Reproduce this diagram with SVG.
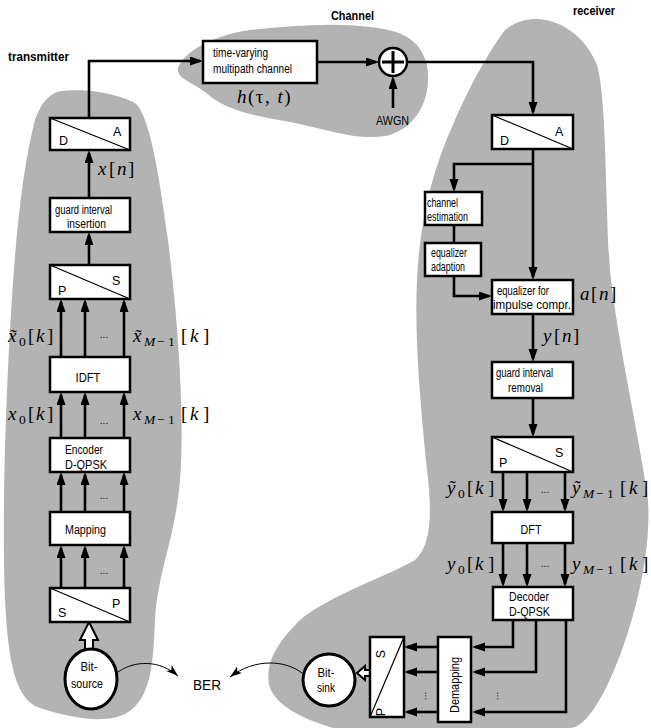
<svg xmlns="http://www.w3.org/2000/svg" width="651" height="728" viewBox="0 0 651 728">
<style>
.blob{fill:#b3b3b3;stroke:none}
.box{fill:#fff;stroke:#000;stroke-width:2.5}
.diag{stroke:#000;stroke-width:1.2;fill:none}
.c{fill:none;stroke:#000;stroke-width:2.6;stroke-linecap:butt;stroke-linejoin:miter}
.t{fill:none;stroke:#000;stroke-width:1}
.s{font-family:"Liberation Sans",Arial,sans-serif;font-size:12.5px;fill:#000}
.l{font-family:"Liberation Sans",Arial,sans-serif;font-size:12.5px;fill:#000}
.b{font-family:"Liberation Sans",Arial,sans-serif;font-size:12.5px;font-weight:bold;fill:#000}
.m{font-family:"Liberation Serif","Times New Roman",serif;font-size:19px;fill:#000}
.i{font-style:italic}
.sub{font-size:13.5px}
.dots{font-family:"Liberation Sans",Arial,sans-serif;font-size:10px;fill:#000}
</style>
<defs>
<marker id="ah" markerUnits="userSpaceOnUse" markerWidth="14" markerHeight="10" refX="10" refY="4.5" orient="auto"><path d="M0,0 L13,4.5 L0,9 z" fill="#000"/></marker>
<marker id="th" markerUnits="userSpaceOnUse" markerWidth="13" markerHeight="9" refX="12" refY="4" orient="auto"><path d="M0,0 L12,4 L0,8 L3,4 z" fill="#000"/></marker>
</defs>

<g id="blobs">
<path class="blob" d="M62,91 C90,88 120,95 135,103 C150,115 160,180 168,240 C178,320 185,420 180,480 C175,540 158,570 155,620 C153,670 150,700 125,714 C105,724 70,718 40,708 C15,700 8,660 5,600 C2,520 5,420 10,330 C15,240 22,170 35,120 C42,100 52,92 62,91 Z"/>
<path class="blob" d="M178,68 C185,50 215,35 250,30 C290,26 330,22 370,27 C400,30 420,38 427,65 C432,95 420,125 390,135 C360,142 330,130 290,122 C250,115 225,110 205,92 C192,82 176,78 178,68 Z"/>
<path class="blob" d="M537,19 C560,20 585,35 597,65 C607,100 605,200 610,270 C617,340 640,440 648,500 C652,560 630,640 605,690 C592,715 580,728 570,728 L333,728 C300,718 275,705 269,685 C265,660 280,640 300,620 C330,595 390,575 415,560 C432,545 432,510 427,470 C422,420 414,340 417,280 C420,220 432,170 455,120 C470,85 490,50 505,30 C515,22 525,19 537,19 Z"/>
</g>

<g id="titles">
<text class="b" x="8" y="61" textLength="61" lengthAdjust="spacingAndGlyphs">transmitter</text>
<text class="b" x="331" y="20" textLength="43" lengthAdjust="spacingAndGlyphs">Channel</text>
<text class="b" x="573" y="15" textLength="42" lengthAdjust="spacingAndGlyphs">receiver</text>
</g>

<g id="connectors">
<path class="c" d="M89,118 V61 H200" marker-end="url(#ah)"/>
<path class="c" d="M89,198 V153" marker-end="url(#ah)"/>
<path class="c" d="M89,265 V235" marker-end="url(#ah)"/>
<path class="c" d="M61,357 V302" marker-end="url(#ah)"/>
<path class="c" d="M85,357 V302" marker-end="url(#ah)"/>
<path class="c" d="M124,357 V302" marker-end="url(#ah)"/>
<path class="c" d="M61,438 V395" marker-end="url(#ah)"/>
<path class="c" d="M85,438 V395" marker-end="url(#ah)"/>
<path class="c" d="M124,438 V395" marker-end="url(#ah)"/>
<path class="c" d="M61,512 V475" marker-end="url(#ah)"/>
<path class="c" d="M85,512 V475" marker-end="url(#ah)"/>
<path class="c" d="M124,512 V475" marker-end="url(#ah)"/>
<path class="c" d="M61,588 V548" marker-end="url(#ah)"/>
<path class="c" d="M85,588 V548" marker-end="url(#ah)"/>
<path class="c" d="M124,588 V548" marker-end="url(#ah)"/>
<polygon points="89,622 98,640 93,640 93,650 85,650 85,640 80,640" fill="#fff" stroke="#000" stroke-width="2"/>
<path class="c" d="M317,62 H376" marker-end="url(#ah)"/>
<path class="c" d="M393,108 V79" marker-end="url(#ah)"/>
<path class="c" d="M407,62 H533 V112" marker-end="url(#ah)"/>
<path class="c" d="M533,149 V277" marker-end="url(#ah)"/>
<path class="c" d="M533,164 H454 V189" marker-end="url(#ah)"/>
<path class="c" d="M454,225 V243"/>
<path class="c" d="M454,276 V296 H489" marker-end="url(#ah)"/>
<path class="c" d="M533,314 V359" marker-end="url(#ah)"/>
<path class="c" d="M533,398 V434" marker-end="url(#ah)"/>
<path class="c" d="M503,472 V509" marker-end="url(#ah)"/>
<path class="c" d="M527,472 V509" marker-end="url(#ah)"/>
<path class="c" d="M565,472 V509" marker-end="url(#ah)"/>
<path class="c" d="M503,543 V584" marker-end="url(#ah)"/>
<path class="c" d="M527,543 V584" marker-end="url(#ah)"/>
<path class="c" d="M565,543 V584" marker-end="url(#ah)"/>
<path class="c" d="M513,620 V647 H475" marker-end="url(#ah)"/>
<path class="c" d="M536,620 V672 H475" marker-end="url(#ah)"/>
<path class="c" d="M566,620 V712 H475" marker-end="url(#ah)"/>
<path class="c" d="M438,647 H407" marker-end="url(#ah)"/>
<path class="c" d="M438,672 H407" marker-end="url(#ah)"/>
<path class="c" d="M438,712 H407" marker-end="url(#ah)"/>
<polygon points="357,673 365,666 365,670 370,670 370,676 365,676 365,680" fill="#fff" stroke="#000" stroke-width="2"/>
<path class="t" d="M118,672 C135,660 160,660 178,676" marker-end="url(#th)"/>
<path class="t" d="M302,673 C285,660 255,658 230,677" marker-end="url(#th)"/>
</g>

<g id="tx-da">
<rect class="box" x="50" y="118" width="80" height="32"/>
<line class="diag" x1="50" y1="118" x2="130" y2="150"/>
<text class="l" x="59" y="145">D</text>
<text class="l" x="113" y="136">A</text>
</g>
<g id="tx-xn">
<text class="m" y="175"><tspan class="i" x="98">x</tspan><tspan x="109">[</tspan><tspan class="i" x="117">n</tspan><tspan x="128">]</tspan></text>
</g>
<g id="tx-guard">
<rect class="box" x="50" y="198" width="80" height="34"/>
<text class="s" x="55" y="214" textLength="57" lengthAdjust="spacingAndGlyphs">guard interval</text>
<text class="s" x="67" y="228" textLength="39" lengthAdjust="spacingAndGlyphs">insertion</text>
</g>
<g id="tx-ps">
<rect class="box" x="50" y="265" width="80" height="34"/>
<line class="diag" x1="50" y1="265" x2="130" y2="299"/>
<text class="l" x="58" y="295">P</text>
<text class="l" x="112" y="285">S</text>
</g>
<g id="tx-xt-labels">
<text class="m" y="342"><tspan class="i" x="8">x̃</tspan><tspan class="sub" x="19" dy="4">0</tspan><tspan x="28" dy="-4">[</tspan><tspan class="i" x="36">k</tspan><tspan x="47">]</tspan></text>
<text class="dots" x="104" y="338" text-anchor="middle">...</text>
<text class="m" y="342"><tspan class="i" x="133">x̃</tspan><tspan class="sub i" x="144" dy="4">M</tspan><tspan class="sub" x="157">−</tspan><tspan class="sub" x="168">1</tspan><tspan x="181" dy="-4">[</tspan><tspan class="i" x="190">k</tspan><tspan x="203">]</tspan></text>
</g>
<g id="tx-idft">
<rect class="box" x="50" y="357" width="80" height="35"/>
<text class="s" x="88" y="382" text-anchor="middle" textLength="25" lengthAdjust="spacingAndGlyphs">IDFT</text>
</g>
<g id="tx-x-labels">
<text class="m" y="420"><tspan class="i" x="8">x</tspan><tspan class="sub" x="19" dy="4">0</tspan><tspan x="28" dy="-4">[</tspan><tspan class="i" x="36">k</tspan><tspan x="47">]</tspan></text>
<text class="dots" x="104" y="424" text-anchor="middle">...</text>
<text class="m" y="420"><tspan class="i" x="133">x</tspan><tspan class="sub i" x="144" dy="4">M</tspan><tspan class="sub" x="157">−</tspan><tspan class="sub" x="168">1</tspan><tspan x="181" dy="-4">[</tspan><tspan class="i" x="190">k</tspan><tspan x="203">]</tspan></text>
</g>
<g id="tx-enc">
<rect class="box" x="50" y="438" width="80" height="34"/>
<text class="s" x="65" y="454" textLength="38" lengthAdjust="spacingAndGlyphs">Encoder</text>
<text class="s" x="65" y="469" textLength="42" lengthAdjust="spacingAndGlyphs">D-QPSK</text>
</g>
<text class="dots" x="104" y="499" text-anchor="middle">...</text>
<g id="tx-map">
<rect class="box" x="50" y="512" width="80" height="33"/>
<text class="s" x="65" y="534" textLength="41" lengthAdjust="spacingAndGlyphs">Mapping</text>
</g>
<text class="dots" x="104" y="574" text-anchor="middle">...</text>
<g id="tx-sp">
<rect class="box" x="50" y="588" width="80" height="34"/>
<line class="diag" x1="50" y1="588" x2="130" y2="622"/>
<text class="l" x="58" y="617">S</text>
<text class="l" x="112" y="608">P</text>
</g>
<g id="bit-source">
<ellipse cx="91" cy="679" rx="26" ry="30" fill="#fff" stroke="#000" stroke-width="3"/>
<text class="s" x="89" y="671" text-anchor="middle" textLength="17" lengthAdjust="spacingAndGlyphs">Bit-</text>
<text class="s" x="87" y="688" text-anchor="middle" textLength="32" lengthAdjust="spacingAndGlyphs">source</text>
</g>
<g id="ber">
<text class="l" x="193" y="690" style="font-size:15px" textLength="28" lengthAdjust="spacingAndGlyphs">BER</text>
</g>

<g id="channel-box">
<rect class="box" x="203" y="41" width="114" height="42"/>
<text class="s" x="213" y="57" textLength="55" lengthAdjust="spacingAndGlyphs">time-varying</text>
<text class="s" x="213" y="73" textLength="79" lengthAdjust="spacingAndGlyphs">multipath channel</text>
</g>
<g id="channel-h">
<text class="m" x="237" y="103" style="letter-spacing:1.5px"><tspan class="i">h</tspan>(τ, <tspan class="i">t</tspan>)</text>
</g>
<g id="adder">
<circle cx="393" cy="62" r="14" fill="#fff" stroke="#000" stroke-width="2.5"/>
<path d="M382,62 H404 M393,51 V73" stroke="#000" stroke-width="3" fill="none"/>
</g>
<g id="awgn">
<text class="l" x="376" y="125" textLength="33" lengthAdjust="spacingAndGlyphs">AWGN</text>
</g>

<g id="rx-da">
<rect class="box" x="492" y="115" width="81" height="34"/>
<line class="diag" x1="492" y1="115" x2="573" y2="149"/>
<text class="l" x="500" y="145">D</text>
<text class="l" x="555" y="136">A</text>
</g>
<g id="rx-chest">
<rect class="box" x="425" y="192" width="57" height="33"/>
<text class="s" x="427" y="207" textLength="31" lengthAdjust="spacingAndGlyphs">channel</text>
<text class="s" x="427" y="221" textLength="41" lengthAdjust="spacingAndGlyphs">estimation</text>
</g>
<g id="rx-eqad">
<rect class="box" x="425" y="243" width="56" height="33"/>
<text class="s" x="431" y="257" textLength="36" lengthAdjust="spacingAndGlyphs">equalizer</text>
<text class="s" x="431" y="271" textLength="34" lengthAdjust="spacingAndGlyphs">adaption</text>
</g>
<g id="rx-eq">
<rect class="box" x="492" y="280" width="81" height="34"/>
<text class="s" x="497" y="295" textLength="52" lengthAdjust="spacingAndGlyphs">equalizer for</text>
<text class="s" x="493" y="309" textLength="78" lengthAdjust="spacingAndGlyphs">impulse compr.</text>
</g>
<g id="rx-an">
<text class="m" y="300"><tspan class="i" x="580">a</tspan><tspan x="591">[</tspan><tspan class="i" x="599">n</tspan><tspan x="610">]</tspan></text>
</g>
<g id="rx-yn">
<text class="m" y="342"><tspan class="i" x="543">y</tspan><tspan x="554">[</tspan><tspan class="i" x="562">n</tspan><tspan x="573">]</tspan></text>
</g>
<g id="rx-guard">
<rect class="box" x="492" y="362" width="81" height="36"/>
<text class="s" x="496" y="377" textLength="57" lengthAdjust="spacingAndGlyphs">guard interval</text>
<text class="s" x="508" y="392" textLength="35" lengthAdjust="spacingAndGlyphs">removal</text>
</g>
<g id="rx-ps">
<rect class="box" x="492" y="437" width="81" height="35"/>
<line class="diag" x1="492" y1="437" x2="573" y2="472"/>
<text class="l" x="499" y="467">P</text>
<text class="l" x="555" y="457">S</text>
</g>
<g id="rx-yt-labels">
<text class="m" y="494"><tspan class="i" x="447">ỹ</tspan><tspan class="sub" x="458" dy="4">0</tspan><tspan x="467" dy="-4">[</tspan><tspan class="i" x="475">k</tspan><tspan x="488">]</tspan></text>
<text class="dots" x="545" y="493" text-anchor="middle">...</text>
<text class="m" y="494"><tspan class="i" x="572">ỹ</tspan><tspan class="sub i" x="583" dy="4">M</tspan><tspan class="sub" x="596">−</tspan><tspan class="sub" x="607">1</tspan><tspan x="620" dy="-4">[</tspan><tspan class="i" x="629">k</tspan><tspan x="642">]</tspan></text>
</g>
<g id="rx-dft">
<rect class="box" x="492" y="512" width="81" height="31"/>
<text class="s" x="531" y="534" text-anchor="middle" textLength="21" lengthAdjust="spacingAndGlyphs">DFT</text>
</g>
<g id="rx-y-labels">
<text class="m" y="570"><tspan class="i" x="447">y</tspan><tspan class="sub" x="458" dy="4">0</tspan><tspan x="467" dy="-4">[</tspan><tspan class="i" x="475">k</tspan><tspan x="488">]</tspan></text>
<text class="dots" x="545" y="567" text-anchor="middle">...</text>
<text class="m" y="570"><tspan class="i" x="572">y</tspan><tspan class="sub i" x="583" dy="4">M</tspan><tspan class="sub" x="596">−</tspan><tspan class="sub" x="607">1</tspan><tspan x="620" dy="-4">[</tspan><tspan class="i" x="629">k</tspan><tspan x="642">]</tspan></text>
</g>
<g id="rx-dec">
<rect class="box" x="493" y="587" width="80" height="33"/>
<text class="s" x="509" y="601" textLength="40" lengthAdjust="spacingAndGlyphs">Decoder</text>
<text class="s" x="509" y="616" textLength="41" lengthAdjust="spacingAndGlyphs">D-QPSK</text>
</g>
<g id="rx-demap">
<rect class="box" x="438" y="637" width="33" height="85"/>
<text class="s" transform="translate(459,685) rotate(-90)" x="0" y="0" text-anchor="middle" textLength="56" lengthAdjust="spacingAndGlyphs">Demapping</text>
</g>
<text class="dots" transform="translate(497,696) rotate(90)" x="0" y="0" text-anchor="middle">...</text>
<text class="dots" transform="translate(425,696) rotate(90)" x="0" y="0" text-anchor="middle">...</text>
<g id="rx-sp">
<rect class="box" x="370" y="637" width="34" height="80"/>
<line class="diag" x1="370" y1="717" x2="404" y2="637"/>
<text class="l" transform="translate(385,654) rotate(-90)" x="0" y="0" text-anchor="middle">S</text>
<text class="l" transform="translate(385,712) rotate(-90)" x="0" y="0" text-anchor="middle">P</text>
</g>
<g id="bit-sink">
<ellipse cx="329" cy="680" rx="26" ry="26" fill="#fff" stroke="#000" stroke-width="3"/>
<text class="s" x="326" y="677" text-anchor="middle" textLength="17" lengthAdjust="spacingAndGlyphs">Bit-</text>
<text class="s" x="326" y="692" text-anchor="middle" textLength="18" lengthAdjust="spacingAndGlyphs">sink</text>
</g>
</svg>
